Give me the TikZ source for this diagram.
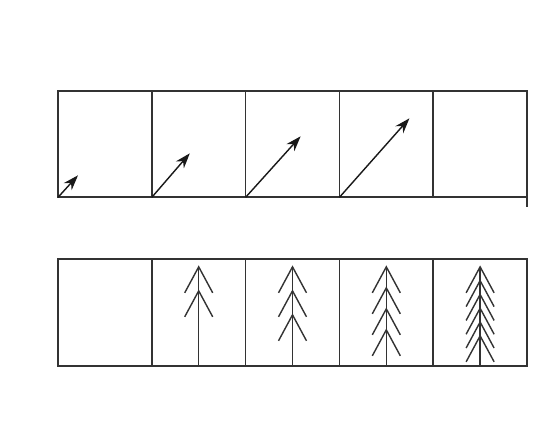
\documentclass[tikz,border=0pt]{standalone}
\usetikzlibrary{arrows.meta, positioning}
\begin{document}
\begin{tikzpicture}[
    x=0.03cm, y=-0.03cm,
    cell/.style = {rectangle, draw=black!80, line width=1.5pt, minimum width=2.814cm,
                   minimum height=3.2cm, outer sep=0pt, inner sep=0pt},
    vec/.style  = {-{Stealth[length=13pt, width=9pt]}, line width=1.2pt, draw=black!90},
    twig/.style = {line width=1.2pt, draw=black!80},
]
\useasboundingbox[fill=white] (0,0) rectangle (556,445);

% upper row
\node[cell] at (104.9,144) (c1) {};
\node[cell, right=0pt of c1] (c2) {};
\node[cell, right=0pt of c2] (c3) {};
\node[cell, right=0pt of c3] (c4) {};
\node[cell, right=0pt of c4] (c5) {};

% lower row
\node[cell] at (104.9,312.5) (d1) {};
\node[cell, right=0pt of d1] (d2) {};
\node[cell, right=0pt of d2] (d3) {};
\node[cell, right=0pt of d3] (d4) {};
\node[cell, right=0pt of d4] (d5) {};

% growing vectors
\coordinate (t1) at ([shift={(20,-22)}]c1.south west);
\coordinate (t2) at ([shift={(38,-44)}]c2.south west);
\coordinate (t3) at ([shift={(55,-61)}]c3.south west);
\coordinate (t4) at ([shift={(70,-79)}]c4.south west);
\draw[vec] (c1.south west) -- (t1);
\draw[vec] (c2.south west) -- (t2);
\draw[vec] (c3.south west) -- (t3);
\draw[vec] (c4.south west) -- (t4);

\coordinate (tick) at ([shift={(0,10)}]c5.south east);
\draw[draw=black!80, line width=1.5pt] (c5.south east) -- (tick);

% trees
\foreach \c/\k/\gap in {2/2/24, 3/3/24, 4/4/21, 5/6/13.8} {
  \coordinate (top\c) at ([shift={(0,-99)}]d\c.south);
  \draw[twig] (d\c.south) -- (top\c);
  \foreach \i in {1,...,\k}
    \draw[twig] ([shift={(-14,{26+(\i-1)*\gap})}]top\c)
             -- ([shift={(0,{(\i-1)*\gap})}]top\c)
             -- ([shift={(14,{26+(\i-1)*\gap})}]top\c);
}

\end{tikzpicture}
\end{document}
